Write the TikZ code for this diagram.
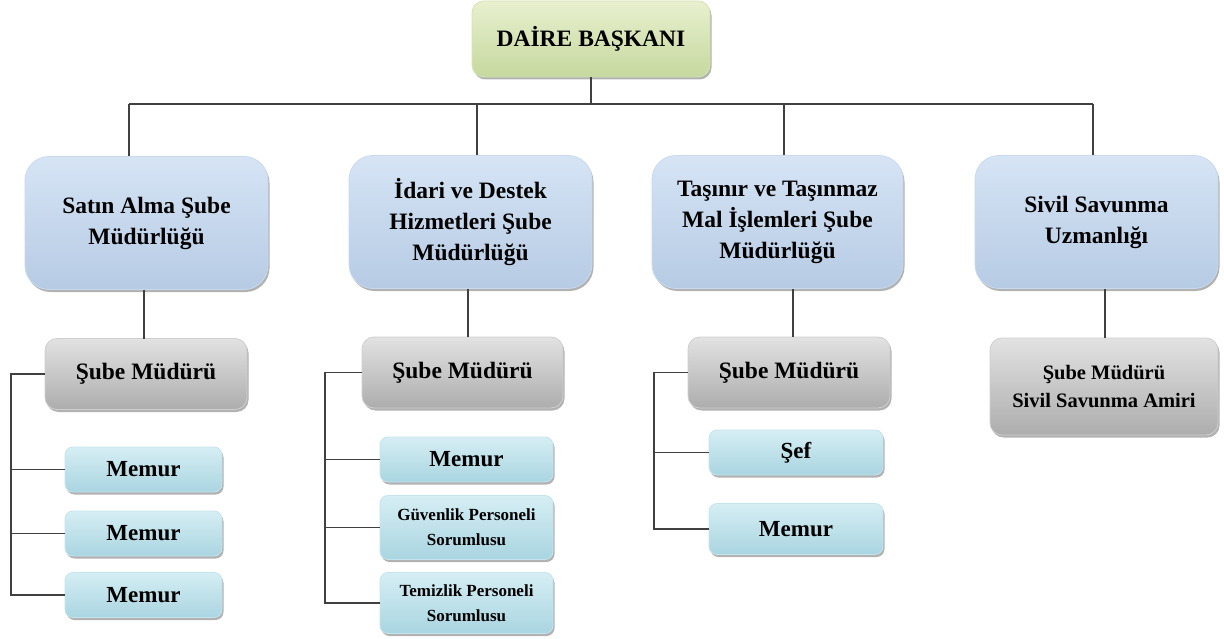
\documentclass[tikz,border=0pt]{standalone}
\usepackage{fontspec}
\setmainfont{Liberation Serif}
\usetikzlibrary{shadows}
\definecolor{gTop}{HTML}{E8F0CF}
\definecolor{gBot}{HTML}{C6D89E}
\definecolor{gEdge}{HTML}{D6E3B4}
\definecolor{bTop}{HTML}{D6E4F5}
\definecolor{bBot}{HTML}{B6CBE4}
\definecolor{bEdge}{HTML}{C9DAEF}
\definecolor{kTop}{HTML}{E2E2E2}
\definecolor{kBot}{HTML}{ADADAD}
\definecolor{kEdge}{HTML}{CFCFCF}
\definecolor{cTop}{HTML}{D6EEF4}
\definecolor{cBot}{HTML}{A9D5E1}
\definecolor{cEdge}{HTML}{C4E4EE}
\definecolor{lineC}{HTML}{404040}
\begin{document}
\begin{tikzpicture}[x=1pt,y=-1pt,
  base/.style={inner sep=0pt, outer sep=0pt, align=center, line width=0.8pt,
    drop shadow={shadow xshift=1.5pt, shadow yshift=-2.5pt, opacity=0.3, fill=black}},
  greenbox/.style={base, rounded corners=12pt, top color=gTop, bottom color=gBot, draw=gEdge,
    font=\bfseries\fontsize{23.5}{28}\selectfont},
  bluebox/.style={base, rounded corners=24pt, top color=bTop, bottom color=bBot, draw=bEdge,
    minimum width=243, minimum height=133, font=\bfseries\fontsize{23.5}{31}\selectfont},
  graybox/.style={base, rounded corners=12pt, top color=kTop, bottom color=kBot, draw=kEdge,
    minimum height=71, font=\bfseries\fontsize{23.5}{28}\selectfont},
  cyanbox/.style={base, rounded corners=8pt, top color=cTop, bottom color=cBot, draw=cEdge,
    font=\bfseries\fontsize{23}{26}\selectfont},
  smalltxt/.style={font=\bfseries\fontsize{17}{25}\selectfont},
  conn/.style={draw=lineC, line width=1.4pt}
]
\fill[white] (0,0) rectangle (1224,639);
\useasboundingbox (0,0) rectangle (1224,639);

% top
\node[greenbox, minimum width=238, minimum height=76] (top) at (591,39) {DAİRE BAŞKANI};

% level 2
\node[bluebox] (b1) at (146.5,223) {Satın Alma Şube\\Müdürlüğü};
\node[bluebox] (b2) at (470.5,222) {İdari ve Destek\\Hizmetleri Şube\\Müdürlüğü};
\node[bluebox, minimum width=251] (b3) at (777.5,222) {Taşınır ve Taşınmaz\\Mal İşlemleri Şube\\Müdürlüğü};
\node[bluebox] (b4) at (1096.5,222) {Sivil Savunma\\Uzmanlığı};

% level 3
\node[graybox, minimum width=202] (g1) at (146,374) {Şube Müdürü};
\node[graybox, minimum width=201] (g2) at (462.5,372.5) {Şube Müdürü};
\node[graybox, minimum width=202] (g3) at (789,372.5) {Şube Müdürü};
\node[graybox, minimum width=228, minimum height=97, font=\bfseries\fontsize{20.5}{28}\selectfont] (g4) at (1104,386.5) {Şube Müdürü\\Sivil Savunma Amiri};

% level 4 col 1
\node[cyanbox, minimum width=157, minimum height=45] (m1a) at (143.5,469.5) {Memur};
\node[cyanbox, minimum width=157, minimum height=45] (m1b) at (143.5,533.5) {Memur};
\node[cyanbox, minimum width=157, minimum height=45] (m1c) at (143.5,595) {Memur};

% level 4 col 2
\node[cyanbox, minimum width=173, minimum height=45] (m2a) at (466.5,459.5) {Memur};
\node[cyanbox, smalltxt, minimum width=173, minimum height=64] (m2b) at (466.5,527.5) {Güvenlik Personeli\\Sorumlusu};
\node[cyanbox, smalltxt, minimum width=173, minimum height=61] (m2c) at (466.5,603) {Temizlik Personeli\\Sorumlusu};

% level 4 col 3
\node[cyanbox, minimum width=174, minimum height=45] (m3a) at (796,452.5) {Şef};
\node[cyanbox, minimum width=174, minimum height=51] (m3b) at (796,529) {Memur};

% connectors: top bus
\coordinate (busL) at (129,104);
\coordinate (busR) at (1093,104);
\coordinate (t2) at (477,104);
\coordinate (t3) at (784,104);
\draw[conn] (top.south) -- (top.south |- busL);
\draw[conn] (busL) -- (busR);
\draw[conn] (busL) -- (busL |- b1.north);
\draw[conn] (t2) -- (t2 |- b2.north);
\draw[conn] (t3) -- (t3 |- b3.north);
\draw[conn] (busR) -- (busR |- b4.north);

% level 2 to level 3
\coordinate (v1) at (144,0);
\coordinate (v2) at (468,0);
\coordinate (v3) at (793,0);
\coordinate (v4) at (1105,0);
\draw[conn] (v1 |- b1.south) -- (v1 |- g1.north);
\draw[conn] (v2 |- b2.south) -- (v2 |- g2.north);
\draw[conn] (v3 |- b3.south) -- (v3 |- g3.north);
\draw[conn] (v4 |- b4.south) -- (v4 |- g4.north);

% branches col 1
\coordinate (s1) at (11,0);
\draw[conn] (g1.west) -- (g1.west -| s1) -- (s1 |- m1c.west) -- (m1c.west);
\draw[conn] (s1 |- m1a.west) -- (m1a.west);
\draw[conn] (s1 |- m1b.west) -- (m1b.west);

% branches col 2
\coordinate (s2) at (325,0);
\draw[conn] (g2.west) -- (g2.west -| s2) -- (s2 |- m2c.west) -- (m2c.west);
\draw[conn] (s2 |- m2a.west) -- (m2a.west);
\draw[conn] (s2 |- m2b.west) -- (m2b.west);

% branches col 3
\coordinate (s3) at (654,0);
\draw[conn] (g3.west) -- (g3.west -| s3) -- (s3 |- m3b.west) -- (m3b.west);
\draw[conn] (s3 |- m3a.west) -- (m3a.west);
\end{tikzpicture}
\end{document}
